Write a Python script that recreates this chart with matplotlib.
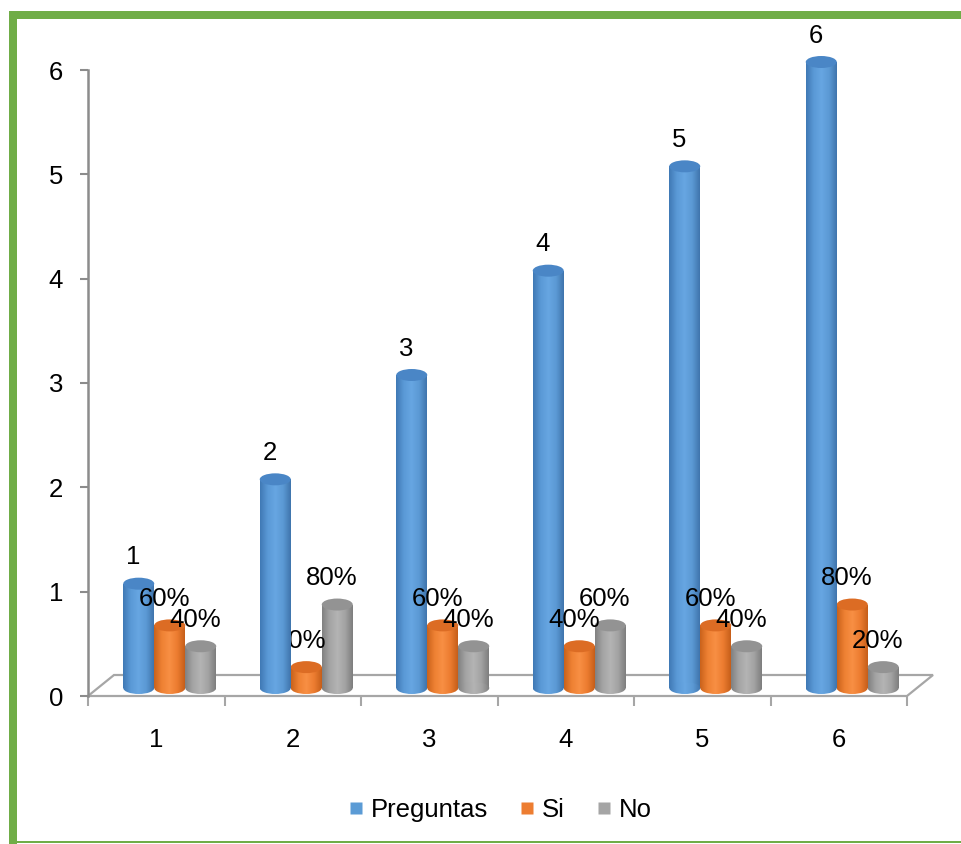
import numpy as np
import matplotlib
matplotlib.use("Agg")
import matplotlib.pyplot as plt
from matplotlib.patches import Ellipse, Polygon, Rectangle
from matplotlib.colors import LinearSegmentedColormap
from matplotlib.lines import Line2D

# ---- data -------------------------------------------------------------
categories = ["1", "2", "3", "4", "5", "6"]
preguntas = [1, 2, 3, 4, 5, 6]
si = [0.6, 0.2, 0.6, 0.4, 0.6, 0.8]
no = [0.4, 0.8, 0.4, 0.6, 0.4, 0.2]
series_names = ["Preguntas", "Si", "No"]
y_ticks = [0, 1, 2, 3, 4, 5, 6]

# ---- style ------------------------------------------------------------
plt.rcParams["font.family"] = ["Liberation Sans", "DejaVu Sans"]
FS = 18.5

base_colors = ["#5b9bd5", "#ed7d31", "#a5a5a5"]
cap_colors = ["#4a86c6", "#dc6c24", "#939393"]
body_grads = [
    ["#3f78b4", "#5a99d6", "#67a6e2", "#5b99d4", "#3f74ac"],
    ["#c9621b", "#ee8133", "#f88f44", "#ec7c30", "#c55e19"],
    ["#808080", "#a4a4a4", "#b4b4b4", "#a3a3a3", "#7d7d7d"],
]
cmaps = [LinearSegmentedColormap.from_list(f"cyl{i}", c) for i, c in enumerate(body_grads)]

W, H = 961, 844
fig = plt.figure(figsize=(W / 100, H / 100), dpi=100)
ax = fig.add_axes([88 / W, 1 - 696 / H, 819 / W, 626 / H])
ax.set_xlim(-0.5, 5.5)
ax.set_ylim(0, 6)
ax.patch.set_alpha(0)

px_x = 819 / 6.0   # pixels per category
px_y = 626 / 6.0   # pixels per value unit
bar_w = 31 / px_x
depth_x = 13.5 / px_x
base = 8 / px_y
cap_h = 12 / px_y

# ---- floor of the 3-D plot area -------------------------------------
fx, fy = 26 / px_x, 21 / px_y
floor = Polygon([(-0.5, 0), (5.5, 0), (5.5 + fx, fy), (-0.5 + fx, fy)],
                closed=True, facecolor="white", edgecolor="#a6a6a6",
                lw=1.6, zorder=1, clip_on=False)
ax.add_patch(floor)

# ---- cylinders ------------------------------------------------------
x = np.arange(len(categories))
grad = np.linspace(0, 1, 256).reshape(1, -1)
all_values = [preguntas, si, no]
bar_z = [4, 3, 3]
bar_sets = []
for k, vals in enumerate(all_values):
    pos = x + depth_x + (k - 1) * bar_w
    bars = ax.bar(pos, vals, width=bar_w, bottom=base, color="none",
                  edgecolor="none", zorder=bar_z[k])
    bar_sets.append(bars)
    for rect in bars:
        x0 = rect.get_x()
        x1 = x0 + rect.get_width()
        xc = x0 + rect.get_width() / 2
        y0 = rect.get_y()
        y1 = y0 + rect.get_height()
        im = ax.imshow(grad, cmap=cmaps[k], extent=(x0, x1, y0, y1),
                       aspect="auto", origin="lower", zorder=bar_z[k],
                       interpolation="bilinear")
        im.set_clip_path(rect)
        e_bot = Ellipse((xc, y0), rect.get_width(), cap_h, facecolor="none",
                        edgecolor="none", zorder=bar_z[k])
        ax.add_patch(e_bot)
        im2 = ax.imshow(grad, cmap=cmaps[k],
                        extent=(x0, x1, y0 - cap_h / 2, y0 + cap_h / 2),
                        aspect="auto", origin="lower", zorder=bar_z[k],
                        interpolation="bilinear")
        im2.set_clip_path(e_bot)
        e_top = Ellipse((xc, y1), rect.get_width(), cap_h,
                        facecolor=cap_colors[k], edgecolor="none",
                        zorder=bar_z[k] + 0.01, clip_on=False)
        ax.add_patch(e_top)

ax.set_xlim(-0.5, 5.5)
ax.set_ylim(0, 6)

# ---- data labels ----------------------------------------------------
label_texts = [
    [str(v) for v in preguntas],
    [f"{v * 100:.0f}%" for v in si],
    [f"{v * 100:.0f}%" for v in no],
]
# the label of the short "Si" column in group 2 sits behind the tall blue column
label_z = {(1, 1): 3.5}
for k, bars in enumerate(bar_sets):
    for i, rect in enumerate(bars):
        xc = rect.get_x() + rect.get_width() / 2
        top = rect.get_y() + rect.get_height()
        ax.annotate(label_texts[k][i], (xc, top), xytext=(-4, 19),
                    textcoords="offset points", ha="center", va="center",
                    fontsize=FS, color="black", annotation_clip=False,
                    zorder=label_z.get((k, i), 6))

# ---- axes -------------------------------------------------------------
for s in ["top", "right", "bottom"]:
    ax.spines[s].set_visible(False)
ax.spines["left"].set_color("#8c8c8c")
ax.spines["left"].set_linewidth(1.8)

ax.set_yticks(y_ticks)
ax.set_yticklabels([str(t) for t in y_ticks], fontsize=FS)
ax.tick_params(axis="y", length=6, width=1.5, color="#8c8c8c", pad=12)

ax.set_xticks(x)
ax.set_xticklabels(categories, fontsize=FS)
ax.set_xticks(np.arange(-0.5, 6, 1.0), minor=True)
ax.tick_params(axis="x", which="major", length=0, pad=23)
ax.tick_params(axis="x", which="minor", length=7, width=1.5, color="#a6a6a6",
               direction="out")

# ---- legend -----------------------------------------------------------
handles = [Line2D([], [], marker="s", linestyle="none", markersize=9,
                  markerfacecolor=c, markeredgecolor="none") for c in base_colors]
fig.legend(handles, series_names, loc="center", ncol=3, frameon=False,
           fontsize=FS, bbox_to_anchor=(500 / W, 1 - 810 / H),
           handlelength=0.6, handletextpad=0.3, columnspacing=1.2)

# ---- green frame ------------------------------------------------------
green = "#70ad47"
fig.add_artist(Rectangle((9 / W, 0), 8 / W, 1 - 11 / H, transform=fig.transFigure,
                         facecolor=green, edgecolor="none"))
fig.add_artist(Rectangle((9 / W, 1 - 19 / H), 1 - 9 / W, 8 / H,
                         transform=fig.transFigure, facecolor=green, edgecolor="none"))
fig.add_artist(Rectangle((9 / W, 1 / H), 1 - 9 / W, 2 / H,
                         transform=fig.transFigure, facecolor=green, edgecolor="none"))

fig.savefig("out.png", dpi=100)
